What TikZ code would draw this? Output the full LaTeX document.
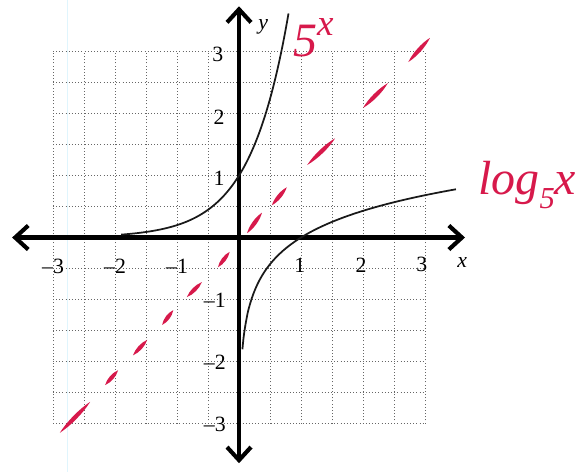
\documentclass[tikz,border=0pt]{standalone}
\usepackage{fontspec}
\setmainfont{Liberation Serif}
\usetikzlibrary{arrows.meta,calc}
\definecolor{ink}{RGB}{215,25,75}
\begin{document}
\begin{tikzpicture}[x=1cm,y=1cm,
  gridline/.style={black!60, line width=0.45pt, densely dotted},
  axis/.style={line width=1.9pt, line cap=round,
    {Straight Barb[length=6pt,width=11pt,line width=1.9pt]}-{Straight Barb[length=6pt,width=11pt,line width=1.9pt]}},
  curve/.style={line width=0.8pt, black!90},
  lens/.style={ink, line width=0.5pt, line cap=round, fill=ink},
  ticklab/.style={font=\fontsize{10}{11}\selectfont, inner sep=0pt},
  hand/.style={ink, inner sep=0pt, font=\fontsize{22}{22}\selectfont\itshape}
]
\useasboundingbox[fill=white] (-3.855,-3.782) rectangle (5.548,3.831);
% faint paper margin line
\draw[cyan!12, line width=0.6pt] (-2.77,-3.782) -- (-2.77,3.831);
% grid
\draw[gridline] (-3,-3) grid[step=0.5] (3,3);
% axes
\coordinate (xl) at (-3.66,0);
\coordinate (xr) at (3.645,0);
\coordinate (yb) at (0,-3.64);
\coordinate (yt) at (0,3.73);
\draw[axis] (xl) -- (xr);
\draw[axis] (yb) -- (yt);
% tick labels
\node[ticklab] (yl3) at (-0.34,2.96) {3};
\node[ticklab] (yl2) at (-0.32,1.94) {2};
\node[ticklab] (yl1) at (-0.32,0.96) {1};
\node[ticklab] (ylm1) at (-0.39,-1.01) {–1};
\node[ticklab] (ylm2) at (-0.39,-2.02) {–2};
\node[ticklab] (ylm3) at (-0.39,-3.02) {–3};
\node[ticklab] (xlm3) at (-3.0,-0.46) {–3};
\node[ticklab] (xlm2) at (-2.0,-0.46) {–2};
\node[ticklab] (xlm1) at (-1.0,-0.46) {–1};
\node[ticklab] (xl1) at (0.98,-0.44) {1};
\node[ticklab] (xl2) at (1.97,-0.44) {2};
\node[ticklab] (xl3) at (2.95,-0.44) {3};
\node[ticklab, font=\fontsize{10}{11}\selectfont\itshape] (xlab) at (3.6,-0.41) {x};
\node[ticklab, font=\fontsize{10}{11}\selectfont\itshape] (ylab) at (0.39,3.40) {y};
% curves
\draw[curve, domain=-1.9:0.8, samples=120, smooth] plot ({\x},{pow(5,\x)});
\draw[curve, domain=0.055:3.5, samples=200, smooth] plot ({\x},{ln(\x)/ln(5)});
% red dashed y = x (hand drawn strokes)
\foreach \a/\b/\c/\d in {
  -2.89/-3.15/-2.40/-2.65,
  -2.16/-2.38/-1.95/-2.14,
  -1.71/-1.90/-1.48/-1.65,
  -1.24/-1.41/-1.06/-1.17,
  -0.84/-0.96/-0.60/-0.72,
  -0.34/-0.48/-0.15/-0.23,
   0.13/0.07/0.37/0.40,
   0.53/0.52/0.77/0.81,
   1.10/1.17/1.55/1.60,
   2.00/2.09/2.40/2.49,
   2.73/2.83/3.08/3.22}{
  \coordinate (p) at (\a,\b);
  \coordinate (q) at (\c,\d);
  \fill[lens] (p) .. controls ($(p)!0.3!(q)!1.3pt!90:(q)$) and ($(p)!0.7!(q)!1.3pt!90:(q)$) .. (q)
              .. controls ($(q)!0.3!(p)!1.3pt!90:(p)$) and ($(q)!0.7!(p)!1.3pt!90:(p)$) .. (p);
}
% handwritten labels
\node[hand] (fivex) at (1.2,3.22) {5\raisebox{0.45em}{\fontsize{17}{17}\selectfont x}};
\node[hand] (logx) at (4.65,0.85) {log\raisebox{-0.3em}{\fontsize{14}{14}\selectfont 5}x};
\end{tikzpicture}
\end{document}
